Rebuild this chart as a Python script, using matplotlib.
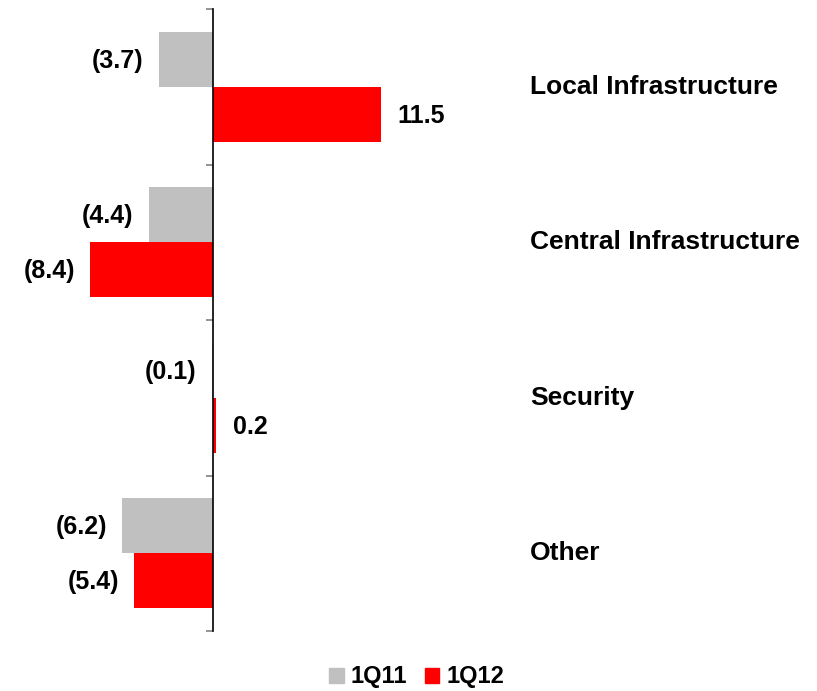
import matplotlib
matplotlib.use("Agg")
import matplotlib.pyplot as plt
import matplotlib.patches as mpatches
import numpy as np

plt.rcParams["font.family"] = ["Liberation Sans", "DejaVu Sans"]

categories = ["Local Infrastructure", "Central Infrastructure", "Security", "Other"]
series_names = ["1Q11", "1Q12"]
q11 = [-3.7, -4.4, -0.1, -6.2]
q12 = [11.5, -8.4, 0.2, -5.4]
colors = ["#C0C0C0", "#FF0000"]


def fmt(v):
    return f"({abs(v):.1f})" if v < 0 else f"{v:.1f}"


fig = plt.figure(figsize=(8.17, 6.91), dpi=100)
ax = fig.add_axes([0.0, 1 - 631 / 691, 1.0, (631 - 9) / 691])

y = np.arange(len(categories))
h = 0.355
for vals, off, c in ((q11, -h / 2, colors[0]), (q12, h / 2, colors[1])):
    ax.barh(y + off, vals, height=h, color=c, edgecolor="none")
    for yi, v in zip(y + off, vals):
        ax.annotate(fmt(v), (v, yi), xytext=(12 if v >= 0 else -11, -1),
                    textcoords="offset points", va="center",
                    ha="left" if v >= 0 else "right",
                    fontsize=18, fontweight="bold")

for yi, name in zip(y, categories):
    ax.text(21.7, yi, name, va="center", ha="left", fontsize=19, fontweight="bold")

ax.set_xlim(-213 / 14.6, (817 - 213) / 14.6)
ax.set_ylim(len(categories) - 0.5, -0.5)
for s in ("top", "right", "bottom"):
    ax.spines[s].set_visible(False)
ax.spines["left"].set_position(("data", 0))
ax.spines["left"].set_linewidth(1.2)
ax.set_xticks([])
ax.set_yticks(np.arange(len(categories) + 1) - 0.5)
ax.set_yticklabels([])
ax.tick_params(axis="y", direction="out", length=5, width=1.2, color="#808080")

handles = [mpatches.Patch(color=c, label=n) for c, n in zip(colors, series_names)]
fig.legend(handles=handles, loc="lower center", bbox_to_anchor=(0.51, -0.027), ncol=2,
           frameon=False, handlelength=0.6, handleheight=0.6, handletextpad=0.3,
           columnspacing=0.75, prop={"weight": "bold", "size": 17})

fig.savefig("out.png", dpi=100)
